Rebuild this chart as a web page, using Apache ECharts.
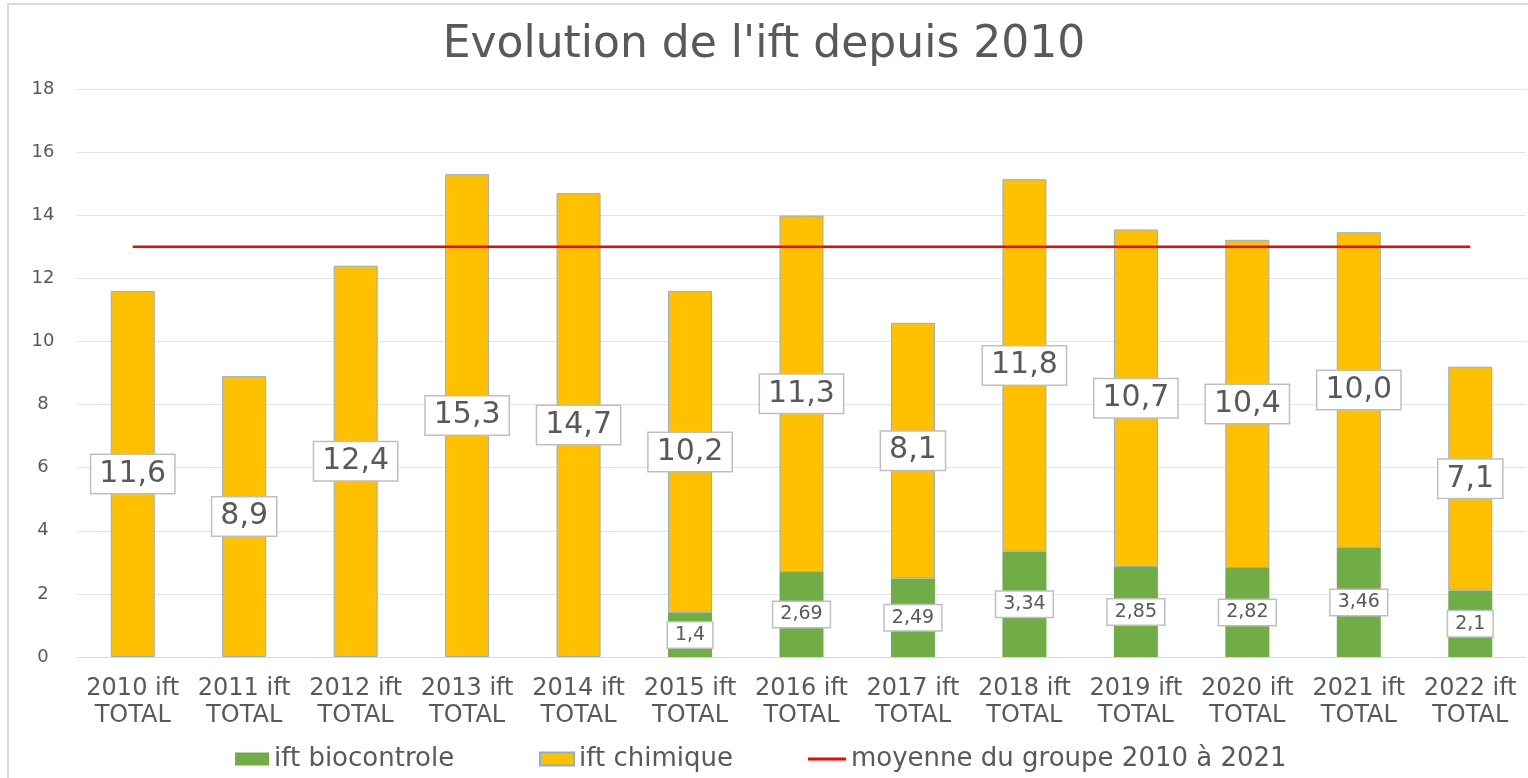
<!DOCTYPE html>
<html>
<head>
<meta charset="utf-8">
<script src="https://cdn.jsdelivr.net/npm/echarts@6/dist/echarts.min.js"></script>
<style>
  html, body { margin: 0; padding: 0; background: #fff; }
  #frame { position: absolute; left: 7px; top: 3px; width: 1521px; height: 775px;
           border-left: 2px solid #d9d9d9; border-top: 2px solid #d9d9d9; box-sizing: border-box; }
  #chart { position: absolute; left: 0; top: 0; width: 1528px; height: 778px; }
</style>
</head>
<body>
<div id="frame"></div>
<div id="chart"></div>
<script>
// chart values
const years = ["2010", "2011", "2012", "2013", "2014", "2015", "2016", "2017", "2018", "2019", "2020", "2021", "2022"];
const bioValues = [null, null, null, null, null, 1.4, 2.69, 2.49, 3.34, 2.85, 2.82, 3.46, 2.1];
const chimValues = [11.6, 8.9, 12.4, 15.3, 14.7, 10.2, 11.3, 8.1, 11.8, 10.7, 10.4, 10.0, 7.1];
const meanValues = [13, 13, 13, 13, 13, 13, 13, 13, 13, 13, 13, 13, 13];
const yTicks = [0, 2, 4, 6, 8, 10, 12, 14, 16, 18];
const seriesNames = ["ift biocontrole", "ift chimique", "moyenne du groupe 2010 à 2021"];

const FONT = "DejaVu Sans";
const TEXT = "#595959";

const chart = echarts.init(document.getElementById("chart"));

// labels keep the comma decimal like the original
const comma = (v) => String(v).replace(".", ",");

// one legend per entry so each sits where the original puts it
const legendLefts = [230, 534, 803];
const legends = seriesNames.map((name, i) => ({
  left: legendLefts[i],
  top: 741,
  itemWidth: i === 2 ? 38 : 34,
  itemHeight: i === 2 ? 3 : 13,
  icon: "rect",
  textStyle: { fontFamily: FONT, fontSize: 26, color: TEXT },
  data: [name]
}));

const option = {
  backgroundColor: "transparent",
  animation: false,
  title: {
    text: "Evolution de l'ift depuis 2010",
    left: "center",
    top: 19,
    textStyle: { fontFamily: FONT, fontSize: 44, fontWeight: "normal", color: TEXT }
  },
  legend: legends,
  grid: { left: 77, right: 2, top: 89, bottom: 121 },
  xAxis: {
    type: "category",
    data: years.map((y) => y + " ift\nTOTAL"),
    axisLine: { lineStyle: { color: "#d9d9d9" } },
    axisTick: { show: false },
    axisLabel: {
      fontFamily: FONT, fontSize: 24, color: TEXT, lineHeight: 27, margin: 18, interval: 0
    }
  },
  yAxis: {
    type: "value",
    min: yTicks[0],
    max: yTicks[yTicks.length - 1],
    interval: 2,
    axisLine: { show: false },
    axisTick: { show: false },
    splitLine: { lineStyle: { color: "#e4e4e4", width: 1 } },
    axisLabel: { fontFamily: FONT, fontSize: 18, color: TEXT, margin: 34, align: "center" }
  },
  series: [
    {
      name: seriesNames[0],
      type: "bar",
      stack: "ift",
      barWidth: 44,
      data: bioValues,
      itemStyle: { color: "#70AD47" },
      label: {
        show: true,
        position: "inside",
        formatter: (p) => (p.value == null ? "" : comma(p.value)),
        fontFamily: FONT, fontSize: 19, color: TEXT,
        backgroundColor: "#fff", borderColor: "#bfbfbf", borderWidth: 1.5,
        padding: [4, 7, 2, 7]
      }
    },
    {
      name: seriesNames[1],
      type: "bar",
      stack: "ift",
      barWidth: 44,
      data: chimValues,
      itemStyle: { color: "#FFC000", borderColor: "#8FAFCF", borderWidth: 1 },
      label: {
        show: true,
        position: "inside",
        formatter: (p) => p.value.toFixed(1).replace(".", ","),
        fontFamily: FONT, fontSize: 30, color: TEXT,
        backgroundColor: "#fff", borderColor: "#bfbfbf", borderWidth: 1.5,
        padding: [5, 8, 3, 8]
      }
    },
    {
      name: seriesNames[2],
      type: "line",
      data: meanValues,
      symbol: "none",
      showSymbol: false,
      lineStyle: { color: "#FF0000", width: 2.5 },
      itemStyle: { color: "#FF0000" },
      z: 5
    }
  ]
};

chart.setOption(option);
</script>
</body>
</html>
